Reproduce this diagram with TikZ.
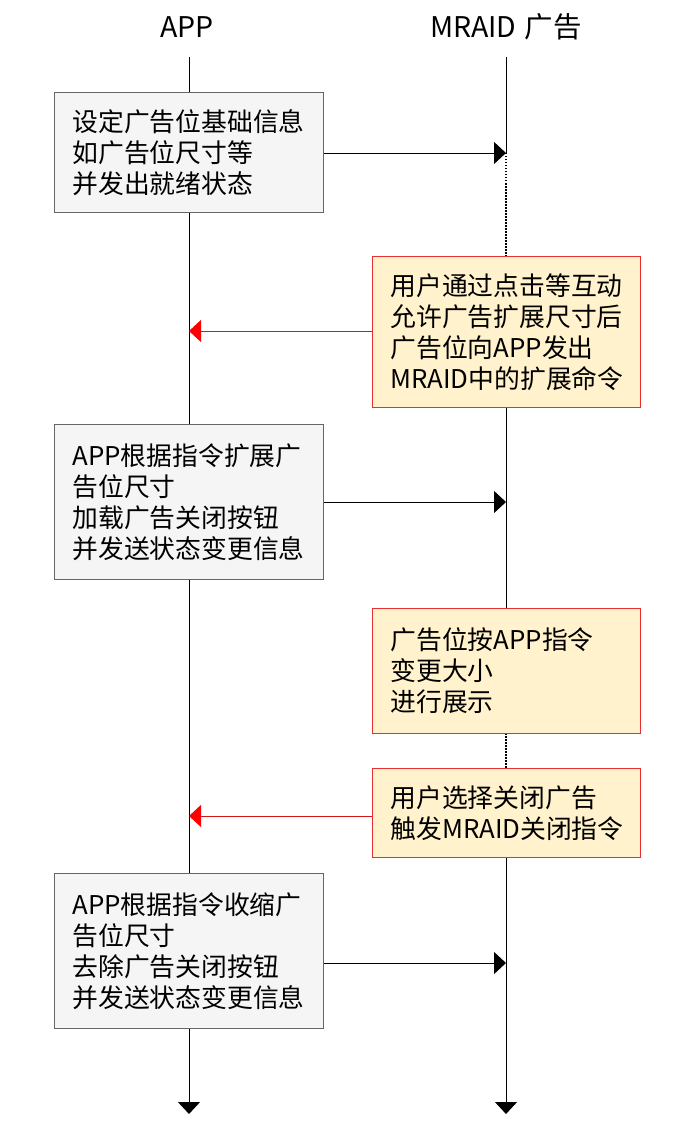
\documentclass[tikz,border=0pt]{standalone}
\usepackage{fontspec}
\setmainfont{Noto Sans CJK SC}
\usetikzlibrary{arrows.meta}
\definecolor{grayfill}{HTML}{F5F5F5}
\definecolor{grayline}{HTML}{666666}
\definecolor{yelfill}{HTML}{FFF2CC}
\definecolor{redline}{HTML}{E83030}
\definecolor{redarrow}{HTML}{D01818}
\tikzset{
  title/.style={font=\fontsize{28.5}{32}\selectfont, inner sep=0pt},
  appbox/.style={draw=grayline, fill=grayfill, line width=1pt, anchor=north west,
    minimum width=269pt, text width=233pt, align=left, inner sep=0pt,
    font=\fontsize{25.8}{31}\selectfont},
  adbox/.style={draw=redline, fill=yelfill, line width=1pt, anchor=north west,
    minimum width=268pt, text width=232pt, align=left, inner sep=0pt,
    font=\fontsize{25.8}{31}\selectfont},
  life/.style={draw=black, line width=0.8pt},
  dottedlife/.style={draw=black, line width=1.2pt, dash pattern=on 1.5pt off 1.5pt},
  msg/.style={draw=black, line width=0.8pt, -{Triangle[length=12pt,width=22pt]}},
  ret/.style={draw=redarrow, line width=0.8pt, -{Triangle[length=12pt,width=22pt,fill=red,color=red]}},
  endarrow/.style={draw=black, line width=0.8pt, -{Triangle[length=12pt,width=22pt]}},
}
\begin{document}
\begin{tikzpicture}[x=1pt,y=-1pt]
\useasboundingbox (0,0) rectangle (688,1126);
% titles
\node[title] (app) at (187,27) {APP};
\node[title] (mraid) at (506,27) {MRAID\hspace{0.3em}广告};
% lifeline coordinates
\coordinate (aTop) at (189,57);
\coordinate (aBot) at (189,1114);
\coordinate (mTop) at (506,57);
\coordinate (m1) at (506,153);
\coordinate (m2) at (506,256);
\coordinate (m3) at (506,407);
\coordinate (m4) at (506,608);
\coordinate (m5) at (506,733);
\coordinate (m6) at (506,768);
\coordinate (m7) at (506,857);
\coordinate (mBot) at (506,1114);
% lifelines
\draw[endarrow] (aTop) -- (aBot);
\draw[life] (mTop) -- (m1);
\draw[dottedlife] (m1) -- (m2);
\draw[life] (m3) -- (m4);
\draw[dottedlife] (m5) -- (m6);
\draw[endarrow] (m7) -- (mBot);
% boxes
\node[appbox, minimum height=120pt] (b1) at (54,92) {设定广告位基础信息\\如广告位尺寸等\\并发出就绪状态};
\node[adbox, minimum height=151pt] (b2) at (372,256) {用户通过点击等互动\\允许广告扩展尺寸后\\广告位向APP发出\\MRAID中的扩展命令};
\node[appbox, minimum height=155pt] (b3) at (54,424) {APP根据指令扩展广\\告位尺寸\\加载广告关闭按钮\\并发送状态变更信息};
\node[adbox, minimum height=125pt] (b4) at (372,608) {广告位按APP指令\\变更大小\\进行展示};
\node[adbox, minimum height=89pt] (b5) at (372,768) {用户选择关闭广告\\触发MRAID关闭指令};
\node[appbox, minimum height=155pt] (b6) at (54,873) {APP根据指令收缩广\\告位尺寸\\去除广告关闭按钮\\并发送状态变更信息};
% target coordinates on lifelines
\coordinate (t1) at (506,153);
\coordinate (t2) at (189,331);
\coordinate (t3) at (506,502);
\coordinate (t5) at (189,816);
\coordinate (t6) at (506,963);
% messages
\draw[msg] (b1.east |- t1) -- (t1);
\draw[ret] (b2.west |- t2) -- (t2);
\draw[msg] (b3.east |- t3) -- (t3);
\draw[ret] (b5.west |- t5) -- (t5);
\draw[msg] (b6.east |- t6) -- (t6);
\end{tikzpicture}
\end{document}
